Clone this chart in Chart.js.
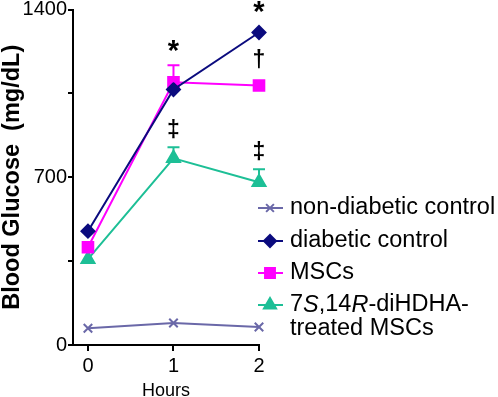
<!DOCTYPE html>
<html>
<head>
<meta charset="utf-8">
<script src="https://cdn.jsdelivr.net/npm/chart.js@4"></script>
<style>
  html, body { margin: 0; padding: 0; background: #fff; }
  #wrap { width: 498px; height: 397px; }
</style>
</head>
<body>
<div id="wrap"><canvas id="glucose" width="498" height="397"></canvas></div>
<script>
// hours on the x axis
const hours = [0, 1, 2];
const yTicks = [0, 700, 1400];

// mean blood glucose (mg/dL)
const nonDiabetic = [70, 92, 75];
const diabetic = [475, 1066, 1304];
const mscs = [408, 1096, 1083];
const treatedMscs = [358, 779, 679];

// upper error (SEM), 0 = not visible
const nonDiabeticErr = [0, 0, 0];
const diabeticErr = [0, 0, 0];
const mscsErr = [0, 71, 0];
const treatedMscsErr = [0, 46, 54];

// significance marks, per series and hour
const diabeticMarks = ['', '', '*'];
const mscsMarks = ['', '*', '\u2020'];
const treatedMarks = ['', '\u2021', '\u2021'];

const toPoints = (vals) => vals.map((v, i) => ({ x: hours[i], y: v }));

const series = [
  { label: 'non-diabetic control', data: nonDiabetic, err: nonDiabeticErr, marks: ['', '', ''],
    color: '#6a68a8', style: 'crossRot', radius: 6 },
  { label: 'diabetic control', data: diabetic, err: diabeticErr, marks: diabeticMarks,
    color: '#0b0b7e', style: 'rectRot', radius: 6.5 },
  { label: 'MSCs', data: mscs, err: mscsErr, marks: mscsMarks,
    color: '#ff00ff', style: 'rect', radius: 7.5 },
  { label: '7S,14R-diHDHA-treated MSCs', data: treatedMscs, err: treatedMscsErr, marks: treatedMarks,
    color: '#1dbf96', style: 'triangle', radius: 7.5,
    legendParts: [[['7', false], ['S', true], [',14', false], ['R', true], ['-diHDHA-', false]],
                  [['treated MSCs', false]]] }
];

// error bars (up only) and significance symbols
const errorBarPlugin = {
  id: 'errorBars',
  afterDatasetsDraw(chart) {
    const ctx = chart.ctx;
    const xs = chart.scales.x, ys = chart.scales.y;
    ctx.save();
    series.forEach((s) => {
      s.data.forEach((v, i) => {
        const px = xs.getPixelForValue(hours[i]);
        const py = ys.getPixelForValue(v);
        let top = py - s.radius;
        if (s.err[i] > 0) {
          const pe = ys.getPixelForValue(v + s.err[i]);
          ctx.strokeStyle = s.color;
          ctx.lineWidth = 2;
          ctx.beginPath();
          ctx.moveTo(px, py);
          ctx.lineTo(px, pe);
          ctx.moveTo(px - 6, pe);
          ctx.lineTo(px + 6, pe);
          ctx.stroke();
          top = pe;
        }
        if (s.marks[i]) {
          const star = s.marks[i] === '*';
          ctx.fillStyle = '#000';
          ctx.font = (star ? 'bold 29px' : 'bold 23px') + ' "Liberation Sans", Arial, sans-serif';
          ctx.textAlign = 'center';
          ctx.textBaseline = 'middle';
          ctx.fillText(s.marks[i], px, top - 17 + (star ? 4 : 0));
        }
      });
    });
    ctx.restore();
  }
};

// legend drawn at the right of the plot
const sideLegendPlugin = {
  id: 'sideLegend',
  afterDraw(chart) {
    const ctx = chart.ctx;
    const rows = [208, 241, 273, 305];
    const lineX0 = 258, lineX1 = 283, markX = 270, textX = 290;
    ctx.save();
    series.forEach((s, k) => {
      const y = rows[k];
      ctx.strokeStyle = s.color;
      ctx.lineWidth = 2;
      ctx.beginPath();
      ctx.moveTo(lineX0, y);
      ctx.lineTo(lineX1, y);
      ctx.stroke();
      ctx.fillStyle = s.color;
      Chart.helpers.drawPoint(ctx, { pointStyle: s.style, radius: s.radius - 0.5, borderWidth: 2 }, markX, y);

      ctx.fillStyle = '#000';
      ctx.textBaseline = 'middle';
      ctx.textAlign = 'left';
      const lines = s.legendParts || [[[s.label, false]]];
      lines.forEach((parts, li) => {
        let x = textX;
        parts.forEach(([txt, it]) => {
          ctx.font = (it ? 'italic ' : '') + '23.5px "Liberation Sans", Arial, sans-serif';
          ctx.fillText(txt, x, y + li * 24);
          x += ctx.measureText(txt).width;
        });
      });
    });
    ctx.restore();
  }
};

new Chart(document.getElementById('glucose'), {
  type: 'line',
  data: {
    datasets: series.map((s) => ({
      label: s.label,
      data: toPoints(s.data),
      borderColor: s.color,
      backgroundColor: s.color,
      pointBackgroundColor: s.color,
      pointBorderColor: s.color,
      pointStyle: s.style,
      pointRadius: s.radius,
      pointBorderWidth: 2,
      borderWidth: 2,
      tension: 0,
      clip: false
    }))
  },
  options: {
    responsive: false,
    animation: false,
    layout: { padding: { top: 9, right: 239, left: 0, bottom: 0 } },
    plugins: { legend: { display: false }, tooltip: { enabled: false } },
    scales: {
      x: {
        type: 'linear',
        min: -0.175,
        max: 2,
        afterBuildTicks: (sc) => { sc.ticks = hours.map((h) => ({ value: h })); },
        afterFit: (sc) => { sc.height = 52; },
        border: { color: '#000', width: 2 },
        grid: { drawOnChartArea: false, drawTicks: true, tickLength: 6, color: '#000', lineWidth: 2 },
        ticks: { color: '#000', padding: 3, font: { family: '"Liberation Sans", Arial', size: 20 } },
        title: { display: true, text: 'Hours', color: '#000', padding: { top: 0, bottom: -3 },
                 font: { family: '"Liberation Sans", Arial', size: 18, lineHeight: 1 } }
      },
      y: {
        min: 0,
        max: 1400,
        afterBuildTicks: (sc) => { sc.ticks = [0, 350, 700, 1050, 1400].map((v) => ({ value: v })); },
        afterFit: (sc) => { sc.width = 73; sc.paddingTop = 0; sc.paddingBottom = 0; },
        border: { color: '#000', width: 2 },
        grid: { drawOnChartArea: false, drawTicks: true, tickLength: 5, color: '#000', lineWidth: 2 },
        ticks: {
          color: '#000', padding: 1,
          font: { family: '"Liberation Sans", Arial', size: 20 },
          callback: (v) => (yTicks.includes(v) ? String(v) : '')
        },
        title: { display: true, text: 'Blood Glucose  (mg/dL)', color: '#000', padding: { top: 1, bottom: 0 },
                 font: { family: '"Liberation Sans", Arial', size: 23.5, weight: 'bold', lineHeight: 1 } }
      }
    }
  },
  plugins: [errorBarPlugin, sideLegendPlugin]
});
</script>
</body>
</html>
